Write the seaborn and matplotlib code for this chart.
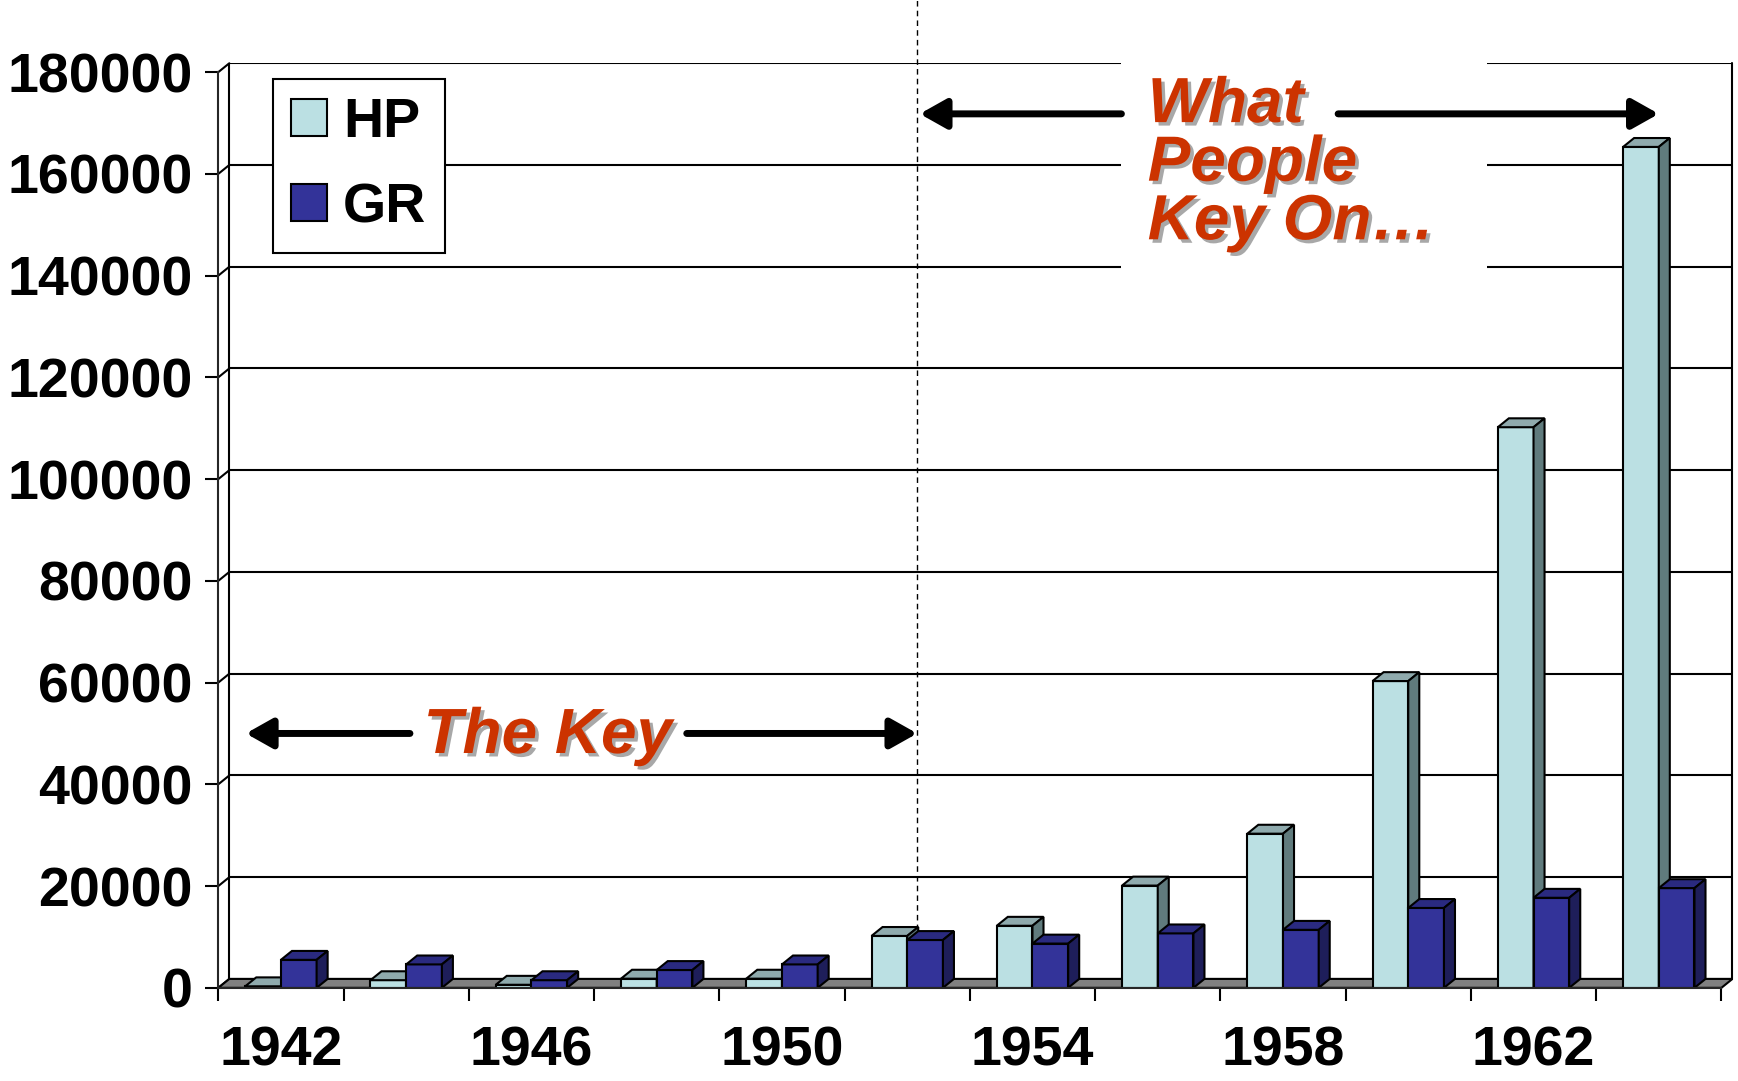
import pandas as pd
import matplotlib.pyplot as plt
import matplotlib.patheffects as pe
from matplotlib.patches import Polygon, Rectangle, Patch
import seaborn as sns

# ---------------- data ----------------
years = ['1942', '1944', '1946', '1948', '1950', '1952',
         '1954', '1956', '1958', '1960', '1962', '1964']
hp = [300, 1500, 600, 1800, 1800, 10200, 12200, 20100, 30300, 60300, 110200, 165300]
gr = [5500, 4600, 1500, 3500, 4600, 9400, 8700, 10700, 11400, 15700, 17700, 19600]
series = ['HP', 'GR']
y_ticks = list(range(0, 180001, 20000))
label_years = ['1942', '1946', '1950', '1954', '1958', '1962']

sns.set_style('white')
plt.rcParams['font.family'] = ['Liberation Sans', 'DejaVu Sans']
plt.rcParams['font.weight'] = 'bold'
plt.rcParams['text.color'] = 'black'
plt.rcParams['xtick.color'] = 'black'
plt.rcParams['ytick.color'] = 'black'

face = {'HP': '#BBE0E3', 'GR': '#333399'}
top = {'HP': '#8FAAAD', 'GR': '#2A2A80'}
side = {'HP': '#607B7D', 'GR': '#1E1E5A'}
red = '#CC3300'

df = pd.DataFrame({
    'Year': years * 2,
    'Value': hp + gr,
    'Series': ['HP'] * len(years) + ['GR'] * len(years),
})

fig = plt.figure(figsize=(17.38, 10.81), dpi=100)
ax = fig.add_axes([0.1256, 0.0862, 0.8712, 0.8553])

# 3d depth offset (x in category units, y in data units)
dx, dy = 0.088, 1750
n = len(years)
x_lo, x_hi = -0.5, n - 0.5
ymax = y_ticks[-1]

# back wall, grid lines and the little diagonals from the front axis
for v in y_ticks:
    ax.plot([x_lo + dx, x_hi + dx], [v + dy, v + dy], color='black', lw=1.5, zorder=1)
    ax.plot([x_lo, x_lo + dx], [v, v + dy], color='black', lw=1.5, zorder=1, clip_on=False)
ax.plot([x_lo + dx] * 2, [dy, ymax + dy], color='black', lw=1.5, zorder=1)
ax.plot([x_hi + dx] * 2, [dy, ymax + dy], color='black', lw=1.5, zorder=1, clip_on=False)

# floor
ax.add_patch(Polygon([(x_lo, 0), (x_hi, 0), (x_hi + dx, dy), (x_lo + dx, dy)],
                     closed=True, facecolor='#808080', edgecolor='black', lw=1.5,
                     zorder=2, clip_on=False))

# bars (front faces)
sns.barplot(data=df, x='Year', y='Value', hue='Series', hue_order=series,
            palette=face, saturation=1, width=0.57, errorbar=None,
            edgecolor='black', linewidth=1.5, legend=False, ax=ax)

# add top + side faces to each bar
for i, cont in enumerate(ax.containers):
    s = series[i]
    z = 3 + i
    for bar in cont:
        x0, w, h = bar.get_x(), bar.get_width(), bar.get_height()
        bar.set_zorder(z)
        ax.add_patch(Polygon([(x0, h), (x0 + dx, h + dy), (x0 + w + dx, h + dy), (x0 + w, h)],
                             closed=True, facecolor=top[s], edgecolor='black', lw=1.5,
                             zorder=z, clip_on=False))
        ax.add_patch(Polygon([(x0 + w, 0), (x0 + w + dx, dy), (x0 + w + dx, h + dy), (x0 + w, h)],
                             closed=True, facecolor=side[s], edgecolor='black', lw=1.5,
                             zorder=z, clip_on=False))

# axes
ax.set_xlim(x_lo, x_hi + dx)
ax.set_ylim(0, ymax + dy)
ax.set_xlabel('')
ax.set_ylabel('')
for sp in ['top', 'right']:
    ax.spines[sp].set_visible(False)
ax.spines['left'].set_bounds(0, ymax)
ax.spines['bottom'].set_bounds(x_lo, x_hi)
ax.spines['left'].set_linewidth(1.5)
ax.spines['bottom'].set_linewidth(1.5)
ax.spines['left'].set_zorder(6)
ax.spines['bottom'].set_zorder(6)

ax.set_yticks(y_ticks)
ax.set_yticklabels([str(v) for v in y_ticks])
ax.tick_params(axis='y', left=True, length=9.5, width=1.5, pad=9, labelsize=40)

ax.set_xticks([x_lo + k for k in range(n + 1)])
ax.set_xticklabels([])
ax.tick_params(axis='x', which='major', bottom=True, length=9.5, width=1.5)
ax.set_xticks([years.index(y) for y in label_years], label_years, minor=True)
ax.tick_params(axis='x', which='minor', bottom=True, length=0, pad=27, labelsize=40)

# legend
handles = [Patch(facecolor=face[s], edgecolor='black', lw=1.5) for s in series]
leg = ax.legend(handles, series, loc='upper left',
                bbox_to_anchor=(246 / 1568, 1 - 71 / 975), bbox_transform=fig.transFigure,
                borderaxespad=0, fontsize=40, handlelength=0.64, handleheight=0.64,
                handletextpad=0.3, labelspacing=0.6, borderpad=0.33,
                fancybox=False, framealpha=1, edgecolor='black')
leg.get_frame().set_linewidth(1.5)
leg.set_zorder(7)

# divider line
split_x = 5.08
ax.plot([split_x, split_x], [0, ymax + dy + 12500], color='black', lw=1,
        ls=(0, (4, 3)), zorder=2.5, clip_on=False)

shadow = [pe.SimplePatchShadow(offset=(2.5, -2.5), shadow_rgbFace='#A8A8A8', alpha=1), pe.Normal()]
arrow = dict(arrowstyle='-|>,head_length=1.6,head_width=0.9', lw=5, color='black',
             shrinkA=0, shrinkB=0)

# "The Key"
ax.text(2.13, 49500, 'The Key', ha='center', va='center', fontsize=46,
        style='italic', weight='bold', color=red, path_effects=shadow, zorder=8)
ax.annotate('', xy=(-0.28, 50000), xytext=(1.03, 50000), arrowprops=arrow, zorder=8)
ax.annotate('', xy=(split_x, 50000), xytext=(3.24, 50000), arrowprops=arrow, zorder=8)

# "What People Key On..."
ax.add_patch(Rectangle((6.71, 135000), 2.92, 50000, facecolor='white',
                       edgecolor='none', zorder=1.5, clip_on=False))
ax.text(6.92, 162000, 'What\nPeople\nKey On…', ha='left', va='center', fontsize=46,
        style='italic', weight='bold', color=red, linespacing=0.97,
        path_effects=shadow, zorder=8)
ax.annotate('', xy=(split_x + 0.02, 171800), xytext=(6.71, 171800), arrowprops=arrow, zorder=8)
ax.annotate('', xy=(11.0, 171800), xytext=(8.44, 171800), arrowprops=arrow, zorder=8)

plt.savefig('out.png', dpi=100)
